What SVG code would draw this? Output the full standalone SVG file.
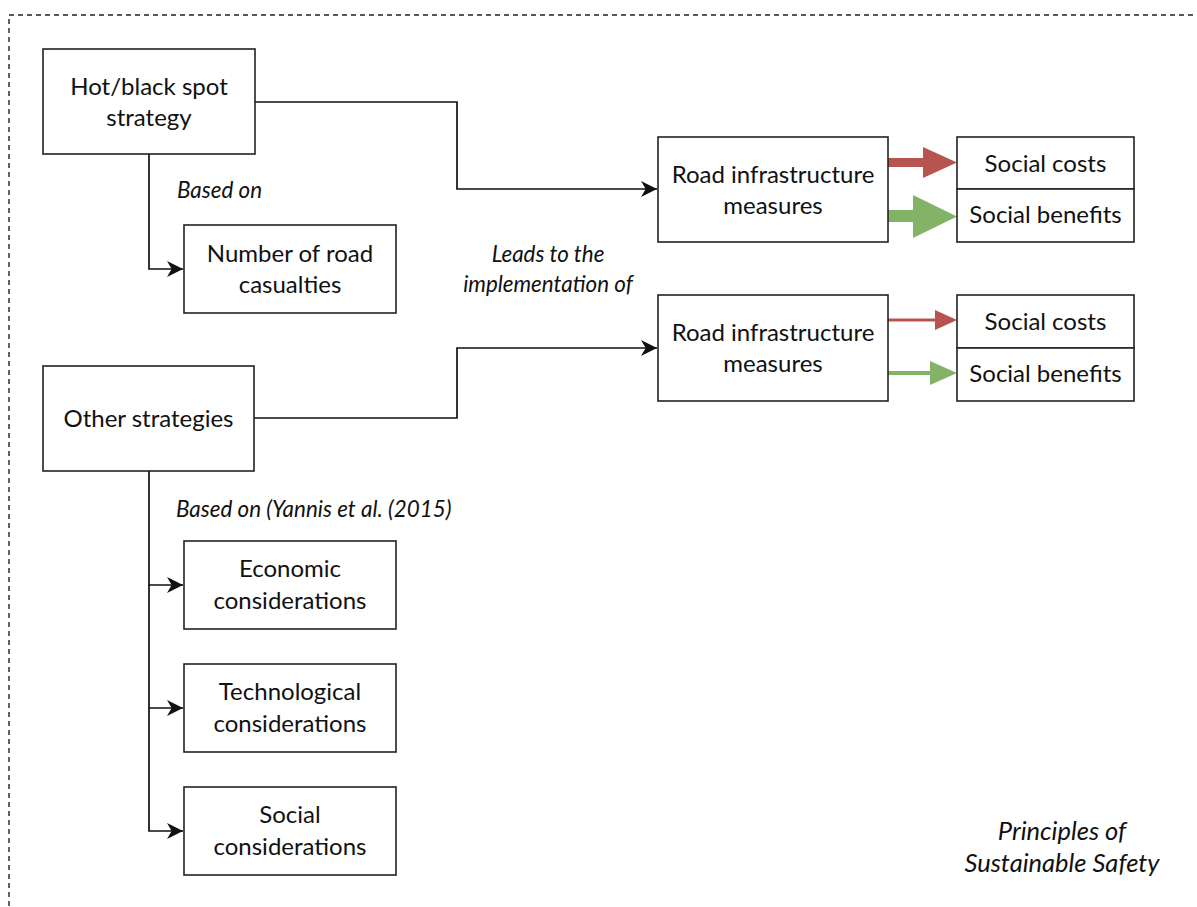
<svg xmlns="http://www.w3.org/2000/svg" width="1197" height="907" viewBox="0 0 1197 907">
  <style>
    .box { fill: #ffffff; stroke: #222222; stroke-width: 1.6; }
    .lbl { font-family: Lato, "Open Sans", "Liberation Sans", sans-serif; font-size: 24px; fill: #111111; text-anchor: middle; }
    .note { font-family: Lato, "Open Sans", "Liberation Sans", sans-serif; font-size: 22.4px; font-style: italic; fill: #111111; }
    .title { font-size: 25.5px; text-anchor: middle; }
    .wire { fill: none; stroke: #111111; stroke-width: 1.7; marker-end: url(#head); }
    .frame { fill: none; stroke: #222222; stroke-width: 1.4; stroke-dasharray: 5 4; }
  </style>
  <defs>
    <marker id="head" markerUnits="userSpaceOnUse" markerWidth="16" markerHeight="16" refX="13" refY="6.5" orient="auto" viewBox="0 0 13 13">
      <path d="M0,0 L13,6.5 L0,13 L3.8,6.5 Z" fill="#111111"/>
    </marker>
  </defs>

  <rect width="1197" height="907" fill="#ffffff"/>
  <!-- outer dashed frame, open to the right and bottom -->
  <rect class="frame" x="9" y="15" width="1220" height="940"/>

  <g id="connectors">
    <path class="wire" d="M149,154 V269 H183"/>
    <path class="wire" d="M255,102 H457 V189 H657"/>
    <path class="wire" d="M254,418 H457 V348 H657"/>
    <path class="wire" d="M149,471 V585 H183"/>
    <path class="wire" d="M149,585 V708 H183"/>
    <path class="wire" d="M149,708 V831 H183"/>
    <!-- cost / benefit arrows -->
    <path d="M888,158 H923 V147 L957,162.5 L923,178 V167 H888 Z" fill="#b85450"/>
    <path d="M888,210 H913 V195 L957,216.5 L913,238 V222 H888 Z" fill="#82b366"/>
    <path d="M888,318.5 H935 V310 L957,320 L935,330 V321.5 H888 Z" fill="#b85450"/>
    <path d="M888,371 H930 V361 L957,373 L930,385 V375 H888 Z" fill="#82b366"/>
  </g>

  <g id="hotspot">
    <rect class="box" x="43" y="49" width="212" height="105"/>
    <text class="lbl" x="149" y="95">Hot/black spot</text>
    <text class="lbl" x="149" y="126">strategy</text>
  </g>
  <g id="casualties">
    <rect class="box" x="184" y="225" width="212" height="88"/>
    <text class="lbl" x="290" y="262">Number of road</text>
    <text class="lbl" x="290" y="293">casualties</text>
  </g>
  <g id="other">
    <rect class="box" x="43" y="366" width="211" height="105"/>
    <text class="lbl" x="148.5" y="427">Other strategies</text>
  </g>
  <g id="economic">
    <rect class="box" x="184" y="541" width="212" height="88"/>
    <text class="lbl" x="290" y="577">Economic</text>
    <text class="lbl" x="290" y="609">considerations</text>
  </g>
  <g id="technological">
    <rect class="box" x="184" y="664" width="212" height="88"/>
    <text class="lbl" x="290" y="700">Technological</text>
    <text class="lbl" x="290" y="732">considerations</text>
  </g>
  <g id="social">
    <rect class="box" x="184" y="787" width="212" height="88"/>
    <text class="lbl" x="290" y="823">Social</text>
    <text class="lbl" x="290" y="855">considerations</text>
  </g>
  <g id="infra1">
    <rect class="box" x="658" y="137" width="230" height="105"/>
    <text class="lbl" x="773" y="183">Road infrastructure</text>
    <text class="lbl" x="773" y="214">measures</text>
  </g>
  <g id="infra2">
    <rect class="box" x="658" y="295" width="230" height="106"/>
    <text class="lbl" x="773" y="341">Road infrastructure</text>
    <text class="lbl" x="773" y="372">measures</text>
  </g>
  <g id="costs1">
    <rect class="box" x="957" y="137" width="177" height="52"/>
    <text class="lbl" x="1045.5" y="172">Social costs</text>
  </g>
  <g id="benefits1">
    <rect class="box" x="957" y="189" width="177" height="53"/>
    <text class="lbl" x="1045.5" y="223">Social benefits</text>
  </g>
  <g id="costs2">
    <rect class="box" x="957" y="295" width="177" height="53"/>
    <text class="lbl" x="1045.5" y="330">Social costs</text>
  </g>
  <g id="benefits2">
    <rect class="box" x="957" y="348" width="177" height="53"/>
    <text class="lbl" x="1045.5" y="382">Social benefits</text>
  </g>

  <g id="labels">
    <text class="note" x="177" y="198">Based on</text>
    <text class="note" x="548" y="262" text-anchor="middle">Leads to the</text>
    <text class="note" x="548" y="292" text-anchor="middle">implementation of</text>
    <text class="note" x="176" y="517">Based on (Yannis et al. (2015)</text>
    <text class="note title" x="1062" y="840">Principles of</text>
    <text class="note title" x="1062" y="872">Sustainable Safety</text>
  </g>
</svg>
